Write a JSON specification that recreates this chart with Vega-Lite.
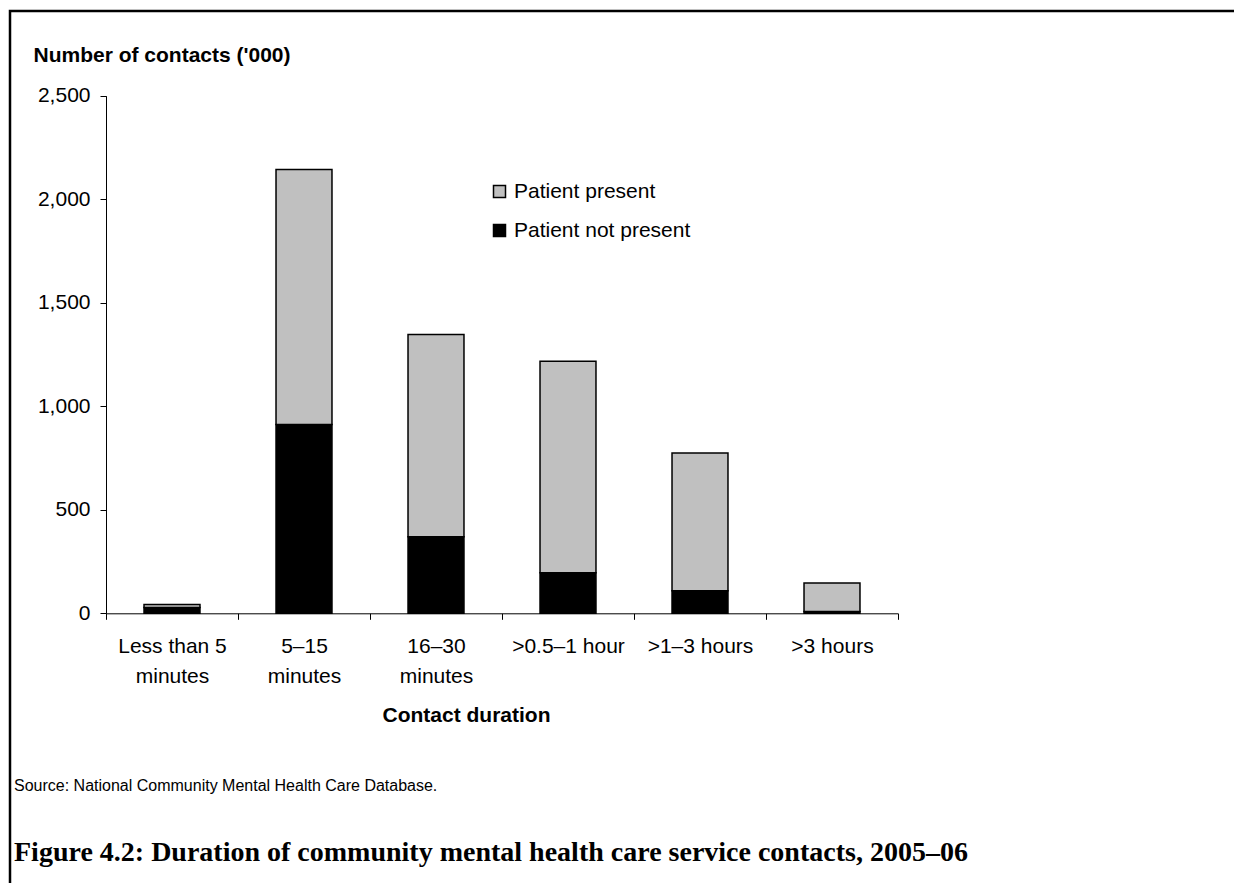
{
  "$schema": "https://vega.github.io/schema/vega-lite/v6.json",
  "width": 1224,
  "height": 872,
  "autosize": {"type": "none"},
  "padding": {"left": 10, "top": 11, "right": 0, "bottom": 0},
  "background": "white",
  "title": {
    "text": "Source: National Community Mental Health Care Database.",
    "subtitle": "Figure 4.2: Duration of community mental health care service contacts, 2005–06",
    "orient": "bottom",
    "anchor": "start",
    "frame": "group",
    "offset": -104.6,
    "dx": 4,
    "font": "Liberation Sans",
    "fontSize": 16,
    "fontWeight": "normal",
    "color": "black",
    "subtitleFont": "Liberation Serif",
    "subtitleFontSize": 28,
    "subtitleFontWeight": "bold",
    "subtitleColor": "black",
    "subtitlePadding": 45
  },
  "data": {
    "values": [
      {"duration": "Less than 5 minutes", "presence": "Patient not present", "contacts": 28},
      {"duration": "Less than 5 minutes", "presence": "Patient present", "contacts": 14},
      {"duration": "5–15 minutes", "presence": "Patient not present", "contacts": 912},
      {"duration": "5–15 minutes", "presence": "Patient present", "contacts": 1232},
      {"duration": "16–30 minutes", "presence": "Patient not present", "contacts": 370},
      {"duration": "16–30 minutes", "presence": "Patient present", "contacts": 976},
      {"duration": ">0.5–1 hour", "presence": "Patient not present", "contacts": 196},
      {"duration": ">0.5–1 hour", "presence": "Patient present", "contacts": 1021},
      {"duration": ">1–3 hours", "presence": "Patient not present", "contacts": 109},
      {"duration": ">1–3 hours", "presence": "Patient present", "contacts": 665},
      {"duration": ">3 hours", "presence": "Patient not present", "contacts": 9},
      {"duration": ">3 hours", "presence": "Patient present", "contacts": 137}
    ]
  },
  "mark": {"type": "bar", "stroke": "black", "strokeWidth": 1.5, "width": {"band": 0.424}},
  "encoding": {
    "x": {
      "field": "duration",
      "type": "nominal",
      "sort": ["Less than 5 minutes", "5–15 minutes", "16–30 minutes", ">0.5–1 hour", ">1–3 hours", ">3 hours"],
      "scale": {"range": [96, 888], "paddingInner": 0, "paddingOuter": 0},
      "axis": {
        "title": "Contact duration",
        "orient": "bottom",
        "offset": -269.7,
        "tickBand": "extent",
        "tickSize": 6,
        "labelAngle": 0,
        "labelFont": "Liberation Sans",
        "labelFontSize": 21,
        "labelPadding": 16,
        "labelLineHeight": 30,
        "labelLimit": 400,
        "labelOverlap": false,
        "labelExpr": "datum.value == 'Less than 5 minutes' ? ['Less than 5', 'minutes'] : datum.value == '5–15 minutes' ? ['5–15', 'minutes'] : datum.value == '16–30 minutes' ? ['16–30', 'minutes'] : datum.label",
        "titleFont": "Liberation Sans",
        "titleFontSize": 21,
        "titleFontWeight": "bold",
        "titleX": 456,
        "titleY": 108.4,
        "titleAlign": "center",
        "titleBaseline": "alphabetic",
        "grid": false,
        "domainColor": "black",
        "tickColor": "black",
        "labelColor": "black",
        "titleColor": "black"
      }
    },
    "y": {
      "field": "contacts",
      "type": "quantitative",
      "stack": "zero",
      "scale": {"domain": [0, 2500], "range": [602.3, 84.7], "nice": false},
      "axis": {
        "title": "Number of contacts ('000)",
        "offset": -96,
        "values": [0, 500, 1000, 1500, 2000, 2500],
        "format": ",.0f",
        "tickSize": 6,
        "labelPadding": 10,
        "labelFont": "Liberation Sans",
        "labelFontSize": 21,
        "titleFont": "Liberation Sans",
        "titleFontSize": 21,
        "titleFontWeight": "bold",
        "titleAngle": 0,
        "titleX": -73,
        "titleY": 50.7,
        "titleAlign": "left",
        "titleBaseline": "alphabetic",
        "grid": false,
        "domainColor": "black",
        "tickColor": "black",
        "labelColor": "black",
        "titleColor": "black"
      }
    },
    "color": {
      "field": "presence",
      "type": "nominal",
      "scale": {"domain": ["Patient present", "Patient not present"], "range": ["#c0c0c0", "#000000"]},
      "legend": {
        "title": null,
        "orient": "none",
        "legendX": 479,
        "legendY": 170,
        "symbolType": "square",
        "symbolSize": 144,
        "symbolStrokeColor": "black",
        "symbolStrokeWidth": 1.5,
        "symbolOpacity": 1,
        "labelFont": "Liberation Sans",
        "labelFontSize": 21,
        "labelOffset": 4,
        "labelLimit": 400,
        "labelColor": "black",
        "rowPadding": 17,
        "padding": 0
      }
    },
    "order": {"field": "presence", "sort": "ascending"}
  },
  "config": {
    "font": "Liberation Sans",
    "view": {"stroke": "black", "strokeWidth": 2.5, "strokeDash": [1224, 2096, 872], "fill": "white"}
  }
}
